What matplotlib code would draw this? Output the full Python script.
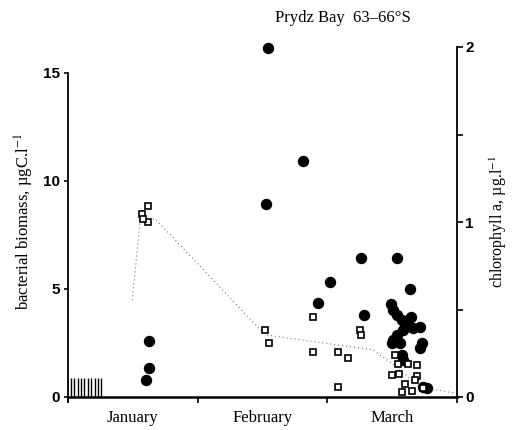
import matplotlib
matplotlib.use("Agg")
import matplotlib.pyplot as plt

plt.rcParams['mathtext.fontset'] = 'stix'

# x in months since 1 January (0 = start of January, 3 = end of March)
bact_x = [1.542, 1.812, 1.524, 2.257, 2.534, 2.02, 2.641, 1.93, 2.282,
          0.625, 0.625, 0.599,
          2.488, 2.503, 2.534, 2.573, 2.598, 2.642, 2.662, 2.714, 2.585,
          2.534, 2.508, 2.496, 2.56, 2.727, 2.714, 2.573, 2.585, 2.739, 2.766]
bact_y = [16.17, 10.94, 8.92, 6.42, 6.42, 5.31, 5.02, 4.34, 3.80,
          2.61, 1.33, 0.79,
          4.31, 4.03, 3.80, 3.56, 3.41, 3.72, 3.18, 3.25, 3.10,
          2.87, 2.64, 2.48, 2.48, 2.48, 2.25, 1.94, 1.71, 0.48, 0.40]

chl_x = [0.62, 0.568, 0.62, 0.575,
         1.52, 1.55, 1.89, 1.89, 2.08, 2.16, 2.08, 2.25, 2.26,
         2.52, 2.547, 2.624, 2.693, 2.496, 2.555, 2.689, 2.676,
         2.598, 2.573, 2.65, 2.739]
chl_y = [1.093, 1.047, 0.998, 1.02,
         0.382, 0.311, 0.458, 0.259, 0.259, 0.222, 0.057, 0.385, 0.355,
         0.24, 0.187, 0.19, 0.183, 0.126, 0.13, 0.12, 0.10,
         0.073, 0.03, 0.034, 0.05]

mean_x = [0.496, 0.555, 0.67, 1.52, 2.35, 2.50, 2.73, 2.85, 3.0]
mean_y = [0.553, 1.0, 1.02, 0.355, 0.27, 0.19, 0.05, 0.04, 0.02]

hatch_x = [0.023, 0.049, 0.075, 0.101, 0.127, 0.153, 0.179, 0.205, 0.231, 0.254]
hatch_h = 0.88

months = ['January', 'February', 'March']
month_pos = [0.5, 1.5, 2.5]

fig = plt.figure(figsize=(5.14, 4.30), dpi=100)
ax = fig.add_axes([68/514, 33/430, (457-68)/514, (397-47)/430])
ax2 = ax.twinx()

ax.set_xlim(0, 3)
ax.set_ylim(0, 16.2)
ax2.set_ylim(0, 2.0)

ax.vlines(hatch_x, 0, hatch_h, color='black', lw=1.0)
ax.plot(bact_x, bact_y, 'o', color='black', ms=7.2, mec='black', zorder=3,
        clip_on=False)

ax2.plot(mean_x, mean_y, color='#555555', lw=0.8, ls=(0, (0.8, 2.8)), zorder=2)
ax2.plot(chl_x, chl_y, 's', mfc='white', mec='black', mew=1.2, ms=5.0, zorder=3)

for a in (ax, ax2):
    a.spines['top'].set_visible(False)
ax.spines['right'].set_visible(False)
ax2.spines['left'].set_visible(False)
ax2.spines['bottom'].set_visible(False)
ax.spines['left'].set_bounds(-0.25, 15)
ax.spines['left'].set_linewidth(1.3)
ax.spines['bottom'].set_linewidth(1.8)
ax2.spines['right'].set_bounds(0, 2)
ax2.spines['right'].set_linewidth(1.3)

ax.set_yticks([0, 5, 10, 15])
ax.set_yticklabels(['0', '5', '10', '15'], fontsize=11, fontweight='bold',
                   family='Liberation Sans')
ax.tick_params(axis='y', direction='out', length=3, width=1.2, pad=3)

ax2.set_yticks([0, 1, 2])
ax2.set_yticklabels(['0', '1', '2'], fontsize=11, fontweight='bold',
                    family='Liberation Sans')
ax2.set_yticks([0.5, 1.5], minor=True)
ax2.tick_params(axis='y', which='both', direction='out', length=4, width=1.2, pad=2)

ax.set_xticks([0, 1, 2, 3])
ax.set_xticklabels([])
ax.tick_params(axis='x', which='major', direction='out', length=4, width=1.2)
ax.set_xticks(month_pos, minor=True)
ax.set_xticklabels(months, minor=True, fontsize=12, family='Liberation Serif')
ax.tick_params(axis='x', which='minor', length=0, pad=9)

ax.set_ylabel(r'bacterial biomass, µgC.l$^{-1}$', fontsize=12,
              family='Liberation Serif', labelpad=5)
ax2.set_ylabel(r'chlorophyll a, µg.l$^{-1}$', fontsize=11.5,
               family='Liberation Serif', labelpad=10)

fig.text(343/514, 1 - 18/430, 'Prydz Bay  63–66°S', ha='center', va='center',
         fontsize=12, family='Liberation Serif')

fig.savefig('out.png', dpi=100)
